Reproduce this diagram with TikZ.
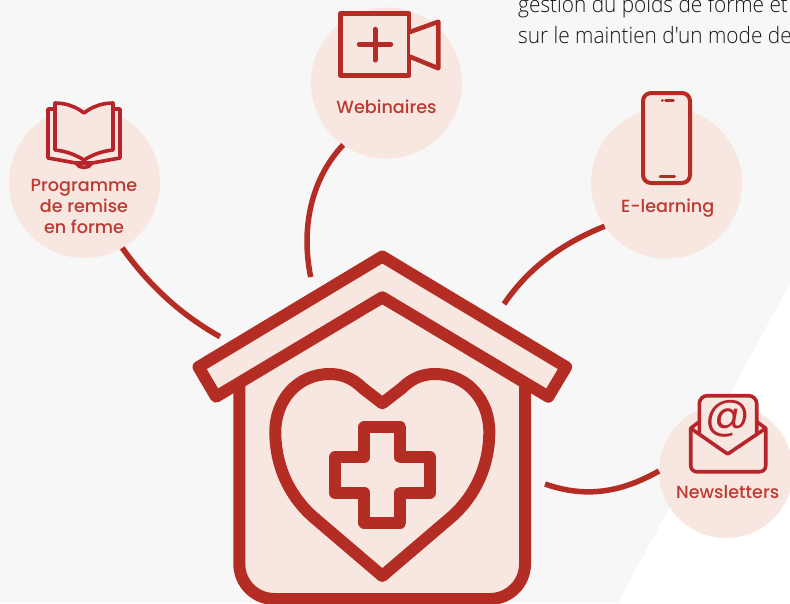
\documentclass[tikz,border=0pt]{standalone}
\usepackage{fontspec}
\setmainfont{Poppins}[FontFace={md}{n}{Font=Poppins Medium}]
\newfontfamily\bodyfont{Open Sans Light}[FakeStretch=0.925]
\definecolor{bgGrey}{HTML}{F7F7F7}
\definecolor{blush}{HTML}{F8E6E0}
\definecolor{brick}{HTML}{B32D24}
\definecolor{iconRed}{HTML}{B7242A}
\definecolor{labelRed}{HTML}{BC3A32}
\tikzset{
  spot/.style={circle, fill=blush, minimum size=151pt, inner sep=0pt, outer sep=0pt},
  lbl/.style={text=labelRed, font=\fontseries{md}\fontsize{17.6}{21}\selectfont, align=center, inner sep=0pt},
  link/.style={draw=brick, line width=5.5pt},
  houseline/.style={draw=brick, line width=12pt, line join=round, fill=blush},
  icon/.style={draw=iconRed, fill=blush, line width=3.6pt, line join=round, line cap=round},
  bodytxt/.style={text=black!90, font=\bodyfont\fontsize{22.5}{22}\selectfont, anchor=base west, inner sep=0pt}
}
\begin{document}
\begin{tikzpicture}[x=1pt, y=-1pt]
  \useasboundingbox (0,0) rectangle (790,603);
  \clip (0,0) rectangle (790,603);
  \fill[bgGrey] (0,0) rectangle (790,603);
  \fill[white] (618,603) -- (790,283) -- (790,603) -- cycle;

  % text on top
  \node[bodytxt] (line1) at (518,12) {gestion du poids de forme et};
  \node[bodytxt] (line2) at (518,43) {sur le maintien d'un mode de};

  % circles
  \node[spot] (remise) at (84.5,182.5) {};
  \node[spot] (webinar) at (386.5,83) {};
  \node[spot] (elearn) at (666.5,183) {};
  \node[spot, minimum size=134pt] (news) at (726,471) {};

  % connectors
  \coordinate (remiseEnd) at (220,336.7);
  \coordinate (webinarEnd) at (310.7,277);
  \coordinate (elearnEnd) at (504,304);
  \coordinate (newsEnd) at (545,484);
  \draw[link] (remise.-60) .. controls (150,287) and (183,316) .. (remiseEnd);
  \draw[link] (webinar.-125) .. controls (310,180) and (301,230) .. (webinarEnd);
  \draw[link] (elearn.-145) .. controls (560,244) and (527,270) .. (elearnEnd);
  \draw[link] (news.west) .. controls (620,493) and (585,498) .. (newsEnd);

  % house
  \draw[houseline] (239.3,380) -- (382.3,297.3) -- (525,380) -- (525,564) arc[start angle=0, end angle=90, radius=35] -- (274.3,599) arc[start angle=90, end angle=180, radius=35] -- cycle;
  \draw[houseline] (382.3,256.5) -- (198.5,367) -- (216,396.7) -- (382.3,297.3) -- (548.3,396.7) -- (566.1,367) -- cycle;
  % heart
  \draw[houseline] (382.3,403.3) -- (401.7,388.3) .. controls (412,378) and (423,374) .. (435,374)
    .. controls (467,374) and (489.3,400) .. (489.3,431.7)
    .. controls (489.3,465) and (476,495) .. (451.7,516.7) -- (382.3,576) -- (312.9,516.7)
    .. controls (288.6,495) and (275.3,465) .. (275.3,431.7)
    .. controls (275.3,400) and (297.6,374) .. (329.6,374)
    .. controls (341.6,374) and (352.6,378) .. (362.9,388.3) -- cycle;
  % cross
  \draw[houseline] (364.3,427.3) -- (400.3,427.3) -- (400.3,457.3) -- (430,457.3) -- (430,492.7) -- (400.3,492.7) -- (400.3,522.7) -- (364.3,522.7) -- (364.3,492.7) -- (335,492.7) -- (335,457.3) -- (364.3,457.3) -- cycle;

  % book
  \draw[icon] (55,109) -- (48,109) -- (48,158) -- (76,163) .. controls (79,169) and (89,169) .. (92,163) -- (120,158) -- (120,109) -- (113,109);
  \draw[icon] (76,163) -- (92,163);
  \draw[icon] (84,113) .. controls (75,106) and (65,103) .. (55,103) -- (55,150) .. controls (66,151) and (76,155) .. (84,160) .. controls (92,155) and (102,151) .. (113,150) -- (113,103) .. controls (103,103) and (93,106) .. (84,113) -- cycle;

  % camera
  \draw[icon, draw=brick, line width=4.5pt] (340.7,13.5) rectangle (409,75.5);
  \draw[icon, draw=brick, line width=4.5pt] (410,32) -- (438.3,21.7) -- (438.3,68.3) -- (410,56.7);
  \draw[icon, draw=brick, line width=5pt] (359.3,44.3) -- (390.7,44.3) (375,29.3) -- (375,60);

  % phone
  \draw[icon, draw=brick, line width=4pt, rounded corners=8pt] (643,93) rectangle (690,183);
  \draw[icon, draw=brick, line width=3pt] (662.3,100) -- (662.4,100) (665.7,100) -- (673.3,100);
  \draw[icon, draw=brick, line width=3pt] (660,176.7) -- (674.5,176.7);

  % envelope
  \draw[icon, rounded corners=8pt] (699.3,435) -- (699.3,395.7) -- (756.7,395.7) -- (756.7,435);
  \draw[icon] (699.3,421.7) -- (690.7,428.3) (756.7,421.7) -- (765.7,428.3);
  \fill[blush] (690.7,428.3) -- (727.7,454) -- (765.7,428.3) -- (765.7,471.7) -- (690.7,471.7) -- cycle;
  \draw[icon, rounded corners=6pt, fill=none] (690.7,428.3) -- (690.7,471.7) -- (765.7,471.7) -- (765.7,428.3);
  \draw[icon, fill=none] (690.7,428.3) -- (727.7,454) -- (765.7,428.3);
  \node[text=iconRed, font=\fontsize{44}{44}\selectfont, inner sep=0pt] (at) at (727.7,418.5) {@};

  % labels
  \node[lbl] (remiseLbl) at (84,206) {Programme\\de remise\\en forme};
  \node[lbl] (webinarLbl) at (386.5,107) {Webinaires};
  \node[lbl] (elearnLbl) at (667.7,208.5) {E-learning};
  \node[lbl] (newsLbl) at (727.7,492) {Newsletters};
\end{tikzpicture}
\end{document}
